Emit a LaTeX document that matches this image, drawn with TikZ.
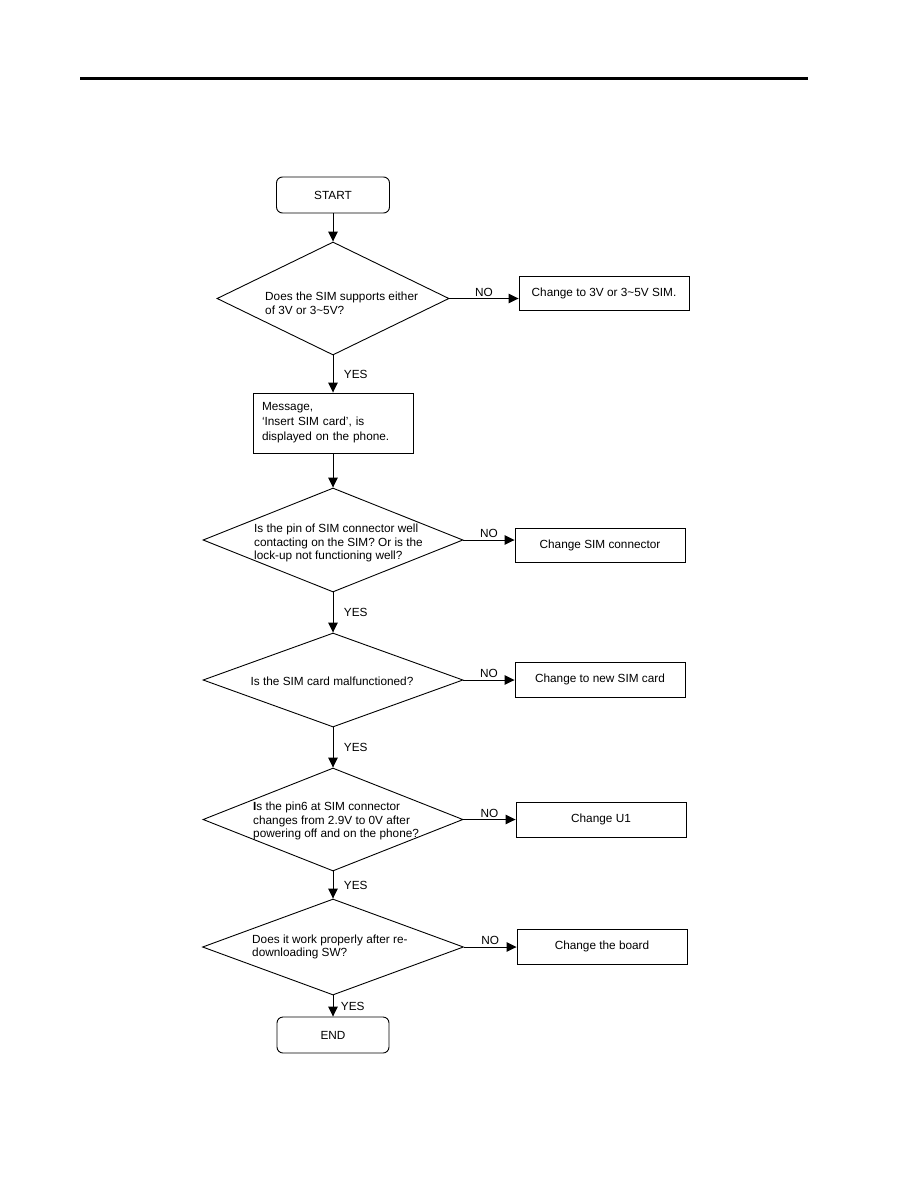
\documentclass[tikz,border=0pt]{standalone}
\usepackage{fontspec}
\setmainfont{Liberation Sans}
\usetikzlibrary{arrows.meta,positioning,shapes.geometric}
\definecolor{Ink}{HTML}{000000}

\tikzset{
  startstop/.style={draw=Ink, line width=0.9pt, rounded corners=6pt, minimum width=113pt, minimum height=36pt},
  decision/.style={draw=Ink, line width=0.9pt, diamond, inner sep=0pt},
  procbox/.style={draw=Ink, line width=0.9pt, minimum width=160pt, minimum height=60pt},
  fixbox/.style={draw=Ink, line width=0.9pt, minimum width=170pt, minimum height=35pt},
  qtext/.style={align=left, inner sep=0pt, anchor=west},
  flow/.style={draw=Ink, line width=0.9pt, -{Triangle[length=10pt,width=9.5pt]}},
  lbl/.style={inner sep=1.5pt},
}

\begin{document}
\begin{tikzpicture}[x=1pt, y=-1pt, every node/.style={font=\fontsize{11.8}{13.6}\selectfont, text=Ink}]
  \useasboundingbox (0,0) rectangle (918,1188);
  \draw[Ink, line width=3pt] (80,79) -- (808,79);

  % main column
  \node[startstop] (start) at (333,195) {START};
  \node[decision, minimum width=232pt, minimum height=113pt] (q1) at (333,298.5) {};
  \node[qtext] (q1txt) at (265,303) {Does the SIM supports either\\of 3V or 3\textasciitilde5V?};
  \node[procbox, text width=142pt, align=left, font=\fontsize{11.8}{15}\selectfont] (msg) at (333,423) {Message,\\`Insert SIM card', is\\displayed on the phone.};
  \node[decision, minimum width=260pt, minimum height=104pt] (q2) at (333,540) {};
  \node[qtext] (q2txt) at (254,543) {Is the pin of SIM connector well\\contacting on the SIM? Or is the\\lock-up not functioning well?};
  \node[decision, minimum width=260pt, minimum height=94pt] (q3) at (333,680) {};
  \node (q3txt) at (332,681) {Is the SIM card malfunctioned?};
  \node[decision, minimum width=260pt, minimum height=103pt] (q4) at (333,819.5) {};
  \node[qtext] (q4txt) at (253,821) {\textbf{I}s the pin6 at SIM connector\\changes from 2.9V to 0V after\\powering off and on the phone?};
  \node[decision, minimum width=261pt, minimum height=96pt] (q5) at (333,947) {};
  \node[qtext] (q5txt) at (252,947) {Does it work properly after re-\\downloading SW?};
  \node[startstop, minimum width=112pt] (stop) at (333,1035) {END};

  % repair actions
  \node[fixbox, minimum height=34pt] (fix1) at (604,293) {Change to 3V or 3\textasciitilde5V SIM.};
  \node[fixbox, minimum height=34pt] (fix2) at (600,545) {Change SIM connector};
  \node[fixbox] (fix3) at (600,679.5) {Change to new SIM card};
  \node[fixbox] (fix4) at (601,819.5) {Change U1};
  \node[fixbox] (fix5) at (602,946.5) {Change the board};

  \draw[flow] (start.south) -- (q1.north);
  \draw[flow] (q1.south) -- node[lbl, right=9pt] (yes1) {YES} (msg.north);
  \draw[flow] (msg.south) -- (q2.north);
  \draw[flow] (q2.south) -- node[lbl, right=9pt] (yes2) {YES} (q3.north);
  \draw[flow] (q3.south) -- node[lbl, right=9pt] (yes3) {YES} (q4.north);
  \draw[flow] (q4.south) -- node[lbl, right=9pt] (yes4) {YES} (q5.north);
  \draw[flow] (q5.south) -- node[lbl, right=6pt] (yes5) {YES} (stop.north);

  \draw[flow] (q1.east) -- node[lbl, above] (no1) {NO} (q1.east -| fix1.west);
  \draw[flow] (q2.east) -- node[lbl, above] (no2) {NO} (q2.east -| fix2.west);
  \draw[flow] (q3.east) -- node[lbl, above] (no3) {NO} (q3.east -| fix3.west);
  \draw[flow] (q4.east) -- node[lbl, above] (no4) {NO} (q4.east -| fix4.west);
  \draw[flow] (q5.east) -- node[lbl, above] (no5) {NO} (q5.east -| fix5.west);
\end{tikzpicture}
\end{document}
